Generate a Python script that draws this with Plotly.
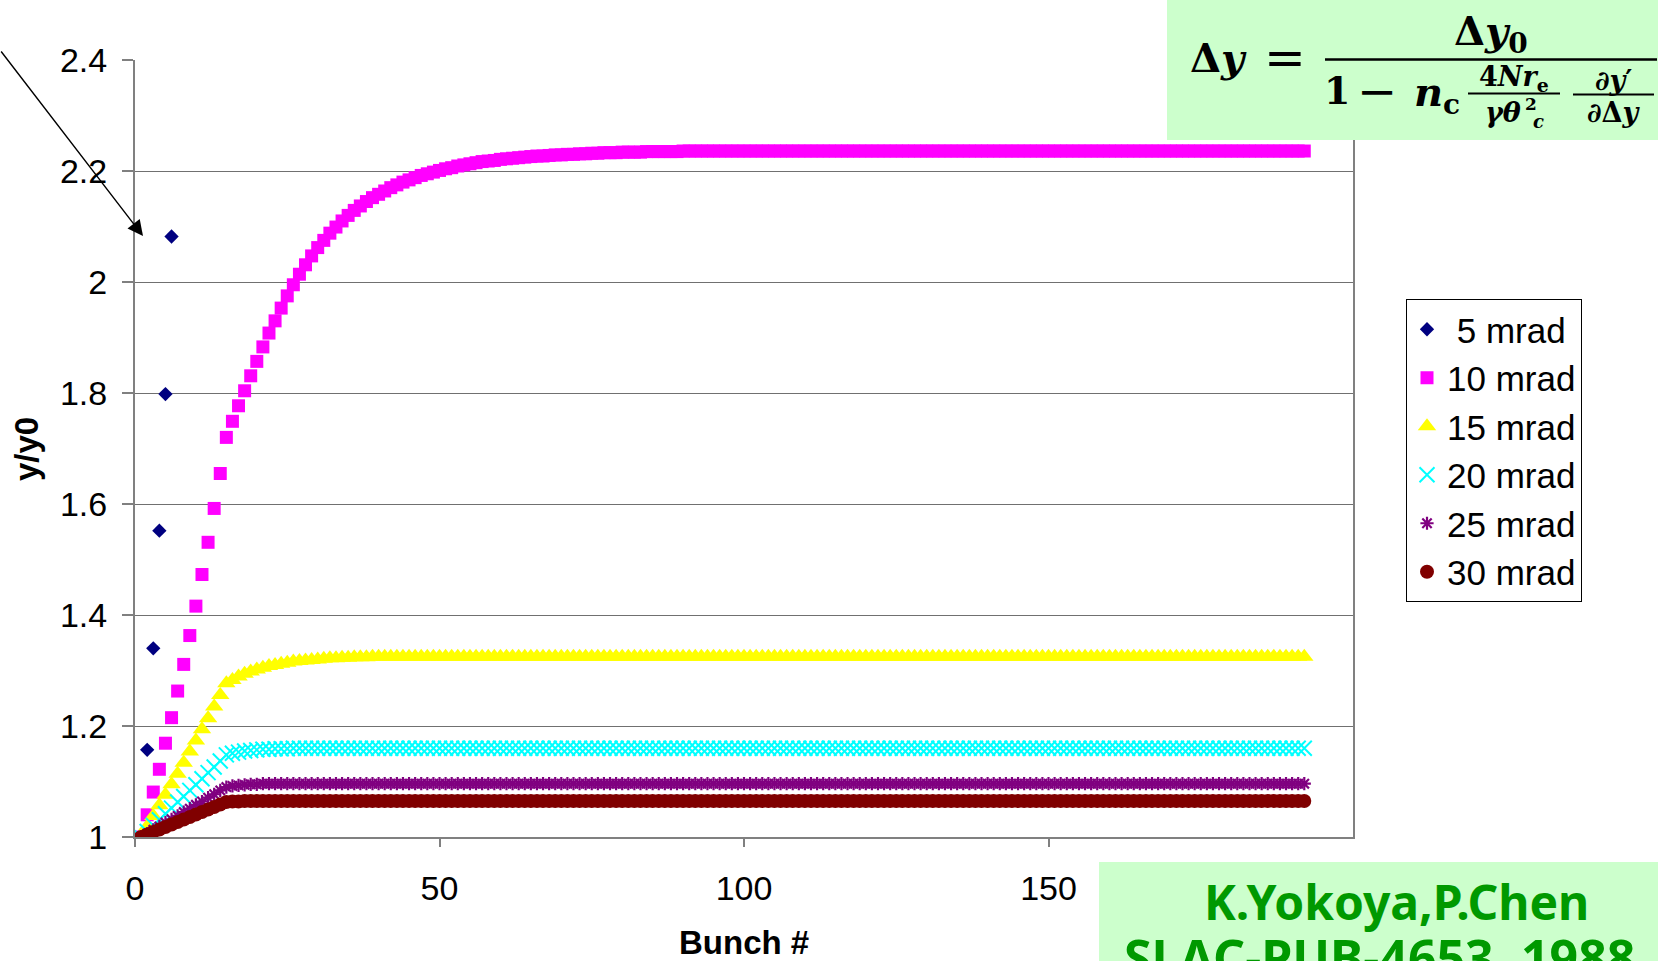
import plotly.graph_objects as go

# ---------------- data ----------------
bunch = list(range(1, 193))

bunch_5mrad = [1, 2, 3, 4, 5, 6]
ratio_5mrad = [1.000, 1.157, 1.340, 1.552, 1.798, 2.082]

ratio_10mrad = [
    1.000, 1.040, 1.081, 1.122, 1.169, 1.215, 1.263, 1.311, 1.363, 1.416,
    1.473, 1.531, 1.592, 1.655, 1.720, 1.749, 1.777, 1.804, 1.831, 1.857,
    1.883, 1.908, 1.930, 1.953, 1.975, 1.995, 2.014, 2.031, 2.047, 2.062,
    2.075, 2.088, 2.099, 2.110, 2.120, 2.129, 2.137, 2.145, 2.152, 2.158,
    2.164, 2.170, 2.175, 2.180, 2.184, 2.188, 2.192, 2.195, 2.198, 2.201,
    2.204, 2.206, 2.209, 2.211, 2.213, 2.215, 2.217, 2.218, 2.219, 2.221,
    2.222, 2.223, 2.224, 2.225, 2.226, 2.227, 2.227, 2.228, 2.229, 2.229,
    2.230, 2.230, 2.231, 2.231, 2.232, 2.232, 2.233, 2.233, 2.233, 2.234,
    2.234, 2.234, 2.234, 2.235, 2.235, 2.235, 2.235, 2.235, 2.235, 2.236,
] + [2.236] * 102

ratio_15mrad = [
    1.000, 1.019, 1.038, 1.057, 1.076, 1.095, 1.114, 1.134, 1.154, 1.174,
    1.194, 1.214, 1.235, 1.256, 1.277, 1.283, 1.289, 1.294, 1.298, 1.302,
    1.305, 1.308, 1.310, 1.312, 1.314, 1.316, 1.317, 1.318, 1.319, 1.320,
    1.321, 1.322, 1.322, 1.323, 1.323, 1.324, 1.324, 1.324, 1.325, 1.325,
] + [1.325] * 152

ratio_20mrad = [
    1.000, 1.010, 1.021, 1.031, 1.042, 1.052, 1.063, 1.073, 1.084, 1.094,
    1.105, 1.116, 1.126, 1.137, 1.148, 1.151, 1.153, 1.155, 1.156, 1.157,
    1.158, 1.158, 1.159, 1.159, 1.159, 1.160, 1.160, 1.160, 1.160, 1.160,
] + [1.160] * 162

ratio_25mrad = [
    1.000, 1.006, 1.013, 1.019, 1.026, 1.032, 1.038, 1.045, 1.051, 1.058,
    1.064, 1.071, 1.077, 1.084, 1.090, 1.092, 1.093, 1.094, 1.095, 1.095,
    1.096, 1.096, 1.096, 1.096, 1.096, 1.096, 1.096, 1.096, 1.096, 1.096,
] + [1.096] * 162

ratio_30mrad = [
    1.000, 1.0045, 1.009, 1.0135, 1.018, 1.0225, 1.027, 1.0315, 1.036, 1.0405,
    1.045, 1.0495, 1.054, 1.0585, 1.063, 1.064, 1.064, 1.065, 1.065, 1.065,
] + [1.065] * 172

series_names = ["\u00a05 mrad", "10 mrad", "15 mrad", "20 mrad", "25 mrad", "30 mrad"]
x_ticks = [0, 50, 100, 150]
y_ticks = [1.0, 1.2, 1.4, 1.6, 1.8, 2.0, 2.2, 2.4]

# ---------------- layout helpers (pixel -> paper) ----------------
W, H = 1658, 961
PL, PR, PT, PB = 135, 1353, 60, 837


def fx(px):
    return (px - PL) / (PR - PL)


def fy(py):
    return (PB - py) / (PB - PT)


AXIS_FONT = "Liberation Sans, Arial, sans-serif"
MATH_FONT = "DejaVu Serif, serif"
NOTE_FONT = "Noto Sans, sans-serif"

fig = go.Figure()

fig.add_trace(go.Scatter(
    x=bunch_5mrad, y=ratio_5mrad, mode="markers", name=series_names[0],
    marker=dict(symbol="diamond", size=11, color="#000080", line=dict(width=0)),
))
fig.add_trace(go.Scatter(
    x=bunch, y=ratio_10mrad, mode="markers", name=series_names[1],
    marker=dict(symbol="square", size=13, color="#FF00FF", line=dict(width=0)),
))
fig.add_trace(go.Scatter(
    x=bunch, y=ratio_15mrad, mode="markers", name=series_names[2],
    marker=dict(symbol="triangle-up", size=16, color="#FFFF00", line=dict(width=0)),
))
fig.add_trace(go.Scatter(
    x=bunch, y=ratio_20mrad, mode="markers", name=series_names[3],
    marker=dict(symbol="x-thin-open", size=15, color="#00FFFF",
                line=dict(width=2, color="#00FFFF")),
))
fig.add_trace(go.Scatter(
    x=bunch, y=ratio_25mrad, mode="markers", name=series_names[4],
    marker=dict(symbol="asterisk-open", size=11, color="#800080",
                line=dict(width=2.2, color="#800080")),
))
fig.add_trace(go.Scatter(
    x=bunch, y=ratio_30mrad, mode="markers", name=series_names[5],
    marker=dict(symbol="circle", size=14, color="#800000", line=dict(width=0)),
))

# ---------------- shapes: info boxes and fraction bars ----------------
shapes = [
    # formula box (top right)
    dict(type="rect", xref="paper", yref="paper", layer="above",
         x0=fx(1167), x1=fx(1700), y0=fy(140), y1=fy(-20),
         fillcolor="#CCFFCC", line=dict(width=0)),
    # reference box (bottom right)
    dict(type="rect", xref="paper", yref="paper", layer="above",
         x0=fx(1099), x1=fx(1700), y0=fy(1000), y1=fy(862),
         fillcolor="#CCFFCC", line=dict(width=0)),
    # fraction bars
    dict(type="line", xref="paper", yref="paper", layer="above",
         x0=fx(1325), x1=fx(1657), y0=fy(59.5), y1=fy(59.5),
         line=dict(color="black", width=2.5)),
    dict(type="line", xref="paper", yref="paper", layer="above",
         x0=fx(1468), x1=fx(1560), y0=fy(93.5), y1=fy(93.5),
         line=dict(color="black", width=1.8)),
    dict(type="line", xref="paper", yref="paper", layer="above",
         x0=fx(1573), x1=fx(1654), y0=fy(94.5), y1=fy(94.5),
         line=dict(color="black", width=1.8)),
]


def txt(text, px, py, size, font=MATH_FONT, color="black", xanchor="center",
        yanchor="middle", angle=0, align="center"):
    return dict(text=text, xref="paper", yref="paper", x=fx(px), y=fy(py),
                xanchor=xanchor, yanchor=yanchor, showarrow=False, textangle=angle,
                align=align, font=dict(family=font, size=size, color=color))


annotations = [
    # formula
    txt("<b>Δ<i>y</i></b>", 1218, 57, 40),
    txt("=", 1285, 58, 50),
    txt("<b>Δ<i>y</i><sub>0</sub></b>", 1491, 34, 40),
    txt("<b>1</b>", 1337, 91, 38),
    txt("−", 1377, 91, 48),
    txt("<b><i>n</i><sub>c</sub></b>", 1437, 95, 40),
    txt("<b>4<i>Nr</i><sub>e</sub></b>", 1514, 79, 27),
    txt("<b><i>γθ</i></b>", 1503, 112, 27),
    txt("<b>2</b>", 1531, 104, 17),
    txt("<b><i>c</i></b>", 1538, 121, 18),
    txt("<b>∂<i>y</i>′</b>", 1614, 81, 27),
    txt("<b>∂Δ<i>y</i></b>", 1613, 112, 27),
    # reference
    txt("<b>K.Yokoya,P.Chen</b>", 1396, 901, 48, font=NOTE_FONT, color="#009900"),
    txt("<b>SLAC-PUB-4653, 1988</b>", 1122, 957, 50, font=NOTE_FONT,
        color="#009900", xanchor="left"),
    # axis titles
    txt("<b>Bunch #</b>", 744, 943, 33, font=AXIS_FONT),
    txt("<b>y/y0</b>", 27, 449, 33, font=AXIS_FONT, angle=-90),
    # pointer arrow
    dict(text="", xref="paper", yref="paper", x=fx(143), y=fy(236),
         ax=-143, ay=-186, axref="pixel", ayref="pixel",
         showarrow=True, arrowhead=2, arrowsize=2.2, arrowwidth=1.4,
         arrowcolor="black"),
]

fig.update_layout(
    width=W, height=H,
    margin=dict(l=PL, r=W - PR, t=PT, b=H - PB, pad=0),
    paper_bgcolor="white", plot_bgcolor="white",
    font=dict(family=AXIS_FONT, size=34, color="black"),
    shapes=shapes,
    annotations=annotations,
    legend=dict(
        x=fx(1406), y=fy(299), xanchor="left", yanchor="top",
        bgcolor="white", bordercolor="#000000", borderwidth=1,
        font=dict(family=AXIS_FONT, size=35, color="black"),
        itemsizing="trace",
    ),
    xaxis=dict(
        range=[0, 200], tickvals=x_ticks, ticks="outside", ticklen=8,
        tickcolor="#808080", tickwidth=2,
        showline=True, linecolor="#808080", linewidth=2,
        showgrid=False, zeroline=False, automargin=False,
        tickfont=dict(family=AXIS_FONT, size=34, color="black"),
        ticklabelstandoff=12,
    ),
    yaxis=dict(
        range=[1, 2.4], tickvals=y_ticks, ticks="outside", ticklen=11,
        tickcolor="#808080", tickwidth=1.5,
        showline=True, linecolor="#808080", linewidth=2, mirror=True,
        showgrid=True, gridcolor="#707070", gridwidth=1.3,
        zeroline=False, automargin=False,
        tickfont=dict(family=AXIS_FONT, size=34, color="black"),
        ticklabelstandoff=8,
    ),
)

fig.write_html("out.html")
